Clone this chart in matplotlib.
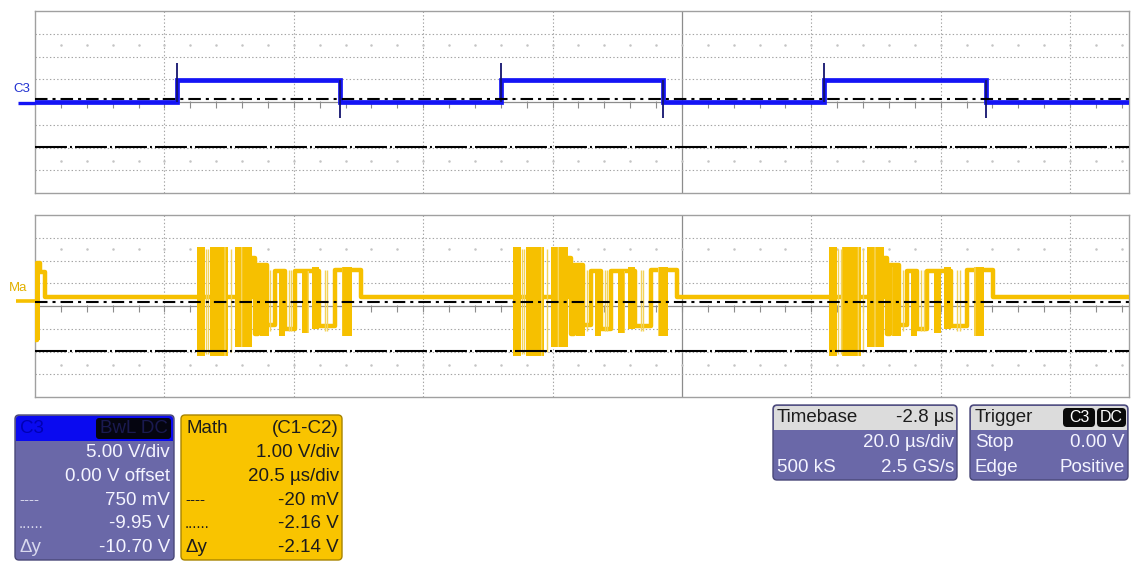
import numpy as np
import matplotlib
matplotlib.use("Agg")
import matplotlib.pyplot as plt
from matplotlib.patches import FancyBboxPatch, Rectangle

W, H = 1136, 561
plt.rcParams['font.family'] = ['Liberation Sans', 'DejaVu Sans']
plt.rcParams['lines.scale_dashes'] = False

# ---------------- channel C3 : 5 V/div, 20 us/div ----------------
c3_edge_times = [21.9, 47.1, 72.0, 97.1, 121.9, 147.0]   # us, rise/fall alternating
c3_low_v = 0.0
c3_high_v = 4.9
c3_rise_peak_v = 8.6
c3_fall_dip_v = -3.5
c3_cursor_v = [0.75, -9.95]

# ---------------- math C1-C2 : 1 V/div, 20.5 us/div ----------------
math_idle_v = 0.2
math_lead_times = [0.0, 0.35, 0.8, 1.6]
math_lead_levels = [-1.7, 1.7, 1.3, 0.2]
math_burst_starts = [25.6, 75.7, 125.8]
# dense toggling inside each burst (us from burst start, volts)
burst_dense_start = [0.00, 2.11, 6.07, 9.98, 12.99, 16.63, 18.22, 22.97]
burst_dense_end = [1.31, 5.02, 8.71, 11.40, 13.94, 17.74, 19.32, 24.55]
burst_dense_high = [2.4, 2.4, 2.4, 1.5, 1.35, 1.35, 1.5, 1.5]
burst_dense_low = [-2.4, -2.4, -2.0, -1.5, -1.5, -1.4, -1.2, -1.5]
# slower bit steps after the preamble
burst_step_times = [8.71, 9.19, 9.66, 11.09, 12.36, 13.94, 15.52, 19.32, 21.86, 26.0]
burst_step_levels = [1.9, -1.45, 1.6, -1.05, 1.35, -1.2, 1.35, -1.1, 1.4, 0.2]
# isolated single transitions
burst_thin_times = [1.50, 1.82, 5.39, 11.7, 14.6, 15.0, 20.3, 20.7]
burst_thin_high = [2.3, 2.3, 2.3, 1.4, 1.4, 1.4, 1.4, 1.4]
burst_thin_low = [-2.3, -2.3, -2.2, -1.3, -1.3, -1.3, -1.3, -1.3]
math_cursor_v = [-0.02, -2.16]

BLUE = '#1414f5'
YELLOW = '#f6c000'
YELLOW_LT = '#f3d35a'
GRID = '#a4a4a4'
NDIV_X = 8.455

fig = plt.figure(figsize=(W / 100, H / 100), dpi=100)
fig.patch.set_facecolor('white')


def fig_rect(x0, y0, x1, y1):
    return [x0 / W, 1 - y1 / H, (x1 - x0) / W, (y1 - y0) / H]


def graticule(ax, xdiv, ydiv, yc):
    ax.set_xlim(0, NDIV_X * xdiv)
    ax.set_ylim(yc - 4 * ydiv, yc + 4 * ydiv)
    ax.set_xticks([])
    ax.set_yticks([])
    for s in ax.spines.values():
        s.set_color('#a0a0a0')
        s.set_linewidth(1.0)
    for k in range(1, 9):
        if k == 5:
            ax.axvline(k * xdiv, color='#8c8c8c', lw=0.9, zorder=1)
        else:
            ax.axvline(k * xdiv, color=GRID, lw=0.8, ls=(0, (1, 1.6)), zorder=1)
    for j in range(-3, 4):
        if j == 0:
            ax.axhline(yc, color='#8c8c8c', lw=0.9, zorder=1)
        else:
            ax.axhline(yc + j * ydiv, color=GRID, lw=0.8, ls=(0, (1, 1.6)), zorder=1)
    minor = np.arange(xdiv / 5, NDIV_X * xdiv, xdiv / 5)
    ax.vlines(minor, yc - 0.25 * ydiv, yc + 0.04 * ydiv, color='#8c8c8c', lw=0.8, zorder=1)
    for j in (-2.6, 2.5):
        ax.plot(minor, np.full_like(minor, yc + j * ydiv), ls='none', marker='.',
                ms=1.6, color='#c4c4c4', zorder=1)


def cursors(ax, vals):
    ax.axhline(vals[0], color='black', lw=1.5, ls=(0, (9, 3.6, 2.2, 3.6)), zorder=6)
    ax.axhline(vals[1], color='black', lw=1.5, ls=(0, (23, 2.2, 1.4, 2.2)), zorder=6)


# ---------------- upper panel : C3 ----------------
ax1 = fig.add_axes(fig_rect(35, 11, 1129, 193))
graticule(ax1, 20, 5, 0)
x1max = NDIV_X * 20
t_c3 = [0.0] + c3_edge_times + [x1max]
lv_c3 = [c3_low_v if i % 2 == 0 else c3_high_v for i in range(len(c3_edge_times) + 1)]
ax1.step(t_c3, lv_c3 + [lv_c3[-1]], where='post', color=BLUE, lw=3.4, zorder=4,
         solid_joinstyle='miter')
ax1.vlines(c3_edge_times[0::2], c3_low_v, c3_rise_peak_v, color='#14146e', lw=1.3, zorder=5)
ax1.vlines(c3_edge_times[1::2], c3_fall_dip_v, c3_high_v, color='#14146e', lw=1.3, zorder=5)
cursors(ax1, c3_cursor_v)

# ---------------- lower panel : math ----------------
ax2 = fig.add_axes(fig_rect(35, 215, 1129, 397))
graticule(ax2, 20.5, 1, -0.2)
x2max = NDIV_X * 20.5
mt = list(math_lead_times)
ml = list(math_lead_levels)
for s in math_burst_starts:
    mt += [s + t for t in burst_step_times]
    ml += burst_step_levels
mt.append(x2max)
ml.append(ml[-1])
ax2.step(mt, ml, where='post', color=YELLOW, lw=3.2, zorder=4)
ax2.fill_between([math_lead_times[0], math_lead_times[2]], math_lead_levels[0],
                 math_lead_levels[1], color=YELLOW, lw=0, zorder=4)
for s in math_burst_starts:
    for a, b, hi, lo in zip(burst_dense_start, burst_dense_end, burst_dense_high, burst_dense_low):
        ax2.fill_between([s + a, s + b], lo, hi, facecolor=YELLOW, edgecolor='#f8d65e',
                         hatch='|', lw=0, zorder=4)
    ax2.vlines([s + t for t in burst_thin_times], burst_thin_low, burst_thin_high,
               color=YELLOW_LT, lw=1.0, zorder=4)
cursors(ax2, math_cursor_v)

# ---------------- overlay : labels and info boxes (pixel coordinates) ----------------
ov = fig.add_axes([0, 0, 1, 1], zorder=10)
ov.set_xlim(0, W)
ov.set_ylim(H, 0)
ov.axis('off')
ov.patch.set_alpha(0)

ov.plot([18, 35], [103, 103], color=BLUE, lw=2.4, solid_capstyle='butt')
ov.text(22, 89, 'C3', color='#2030d0', fontsize=9.5, ha='center', va='center')
ov.plot([16, 35], [301, 301], color=YELLOW, lw=2.6, solid_capstyle='butt')
ov.text(18, 288, 'Ma', color='#e2b000', fontsize=9.5, ha='center', va='center')

FS = 13.5
PURPLE = '#6a68a8'


def rbox(x0, y0, x1, y1, face, edge, r=4, lw=1.0, z=1):
    ov.add_patch(FancyBboxPatch((x0, y0), x1 - x0, y1 - y0,
                                boxstyle=f'round,pad=0,rounding_size={r}',
                                facecolor=face, edgecolor=edge, lw=lw, zorder=z))


# C3 channel box
rbox(15, 415, 174, 560, PURPLE, '#4a4878')
rbox(16, 416, 173, 441, '#0a0af0', 'none', r=3, z=2)
ov.add_patch(Rectangle((16, 436), 157, 5, facecolor='#0a0af0', edgecolor='none', zorder=2))
rbox(96, 418, 171, 439, '#050510', 'none', r=3, z=3)
ov.text(20, 428, 'C3', color='#0000b4', fontsize=FS, ha='left', va='center', zorder=4)
ov.text(168, 428, 'BwL DC', color='#1a1a50', fontsize=FS, ha='right', va='center', zorder=4)
c3_rows = ['5.00 V/div', '0.00 V offset', '750 mV', '-9.95 V', '-10.70 V']
c3_keys = ['', '', '----', '......', 'Δy']
rows_y = [452, 476, 500, 524, 548]
for y, s, k in zip(rows_y, c3_rows, c3_keys):
    ov.text(170, y, s, color='#f4f4ff', fontsize=FS, ha='right', va='center', zorder=4)
    if k:
        ov.text(19, y, k, color='#d8d8ee', fontsize=FS if k == 'Δy' else 11,
                ha='left', va='center', zorder=4)

# math box
rbox(181, 415, 342, 560, '#f9c400', '#a88400')
ov.text(186, 428, 'Math', color='#1c1c1c', fontsize=FS, ha='left', va='center', zorder=4)
ov.text(339, 428, '(C1-C2)', color='#1c1c1c', fontsize=FS, ha='right', va='center', zorder=4)
m_rows = ['1.00 V/div', '20.5 µs/div', '-20 mV', '-2.16 V', '-2.14 V']
for y, s, k in zip(rows_y, m_rows, c3_keys):
    ov.text(339, y, s, color='#1c1c1c', fontsize=FS, ha='right', va='center', zorder=4)
    if k:
        ov.text(185, y, k, color='#1c1c1c', fontsize=FS if k == 'Δy' else 11,
                ha='left', va='center', zorder=4)

# timebase box
rbox(773, 405, 957, 480, PURPLE, '#4a4878')
rbox(774, 406, 956, 430, '#dcdcdc', 'none', r=3, z=2)
ov.add_patch(Rectangle((774, 425), 182, 5, facecolor='#dcdcdc', edgecolor='none', zorder=2))
ov.text(777, 417, 'Timebase', color='#1c1c1c', fontsize=FS, ha='left', va='center', zorder=4)
ov.text(954, 417, '-2.8 µs', color='#1c1c1c', fontsize=FS, ha='right', va='center', zorder=4)
ov.text(954, 442, '20.0 µs/div', color='#f4f4ff', fontsize=FS, ha='right', va='center', zorder=4)
ov.text(777, 467, '500 kS', color='#f4f4ff', fontsize=FS, ha='left', va='center', zorder=4)
ov.text(954, 467, '2.5 GS/s', color='#f4f4ff', fontsize=FS, ha='right', va='center', zorder=4)

# trigger box
rbox(970, 405, 1128, 480, PURPLE, '#4a4878')
rbox(971, 406, 1127, 430, '#dcdcdc', 'none', r=3, z=2)
ov.add_patch(Rectangle((971, 425), 156, 5, facecolor='#dcdcdc', edgecolor='none', zorder=2))
ov.text(975, 417, 'Trigger', color='#1c1c1c', fontsize=FS, ha='left', va='center', zorder=4)
rbox(1063, 408, 1095, 427, '#0a0a0a', 'none', r=4, z=3)
rbox(1097, 408, 1126, 427, '#0a0a0a', 'none', r=4, z=3)
ov.text(1079, 417.5, 'C3', color='white', fontsize=11.5, ha='center', va='center', zorder=4)
ov.text(1111.5, 417.5, 'DC', color='white', fontsize=11.5, ha='center', va='center', zorder=4)
ov.text(975, 442, 'Stop', color='#f4f4ff', fontsize=FS, ha='left', va='center', zorder=4)
ov.text(1125, 442, '0.00 V', color='#f4f4ff', fontsize=FS, ha='right', va='center', zorder=4)
ov.text(975, 467, 'Edge', color='#f4f4ff', fontsize=FS, ha='left', va='center', zorder=4)
ov.text(1125, 467, 'Positive', color='#f4f4ff', fontsize=FS, ha='right', va='center', zorder=4)

fig.savefig('out.png', dpi=100)
